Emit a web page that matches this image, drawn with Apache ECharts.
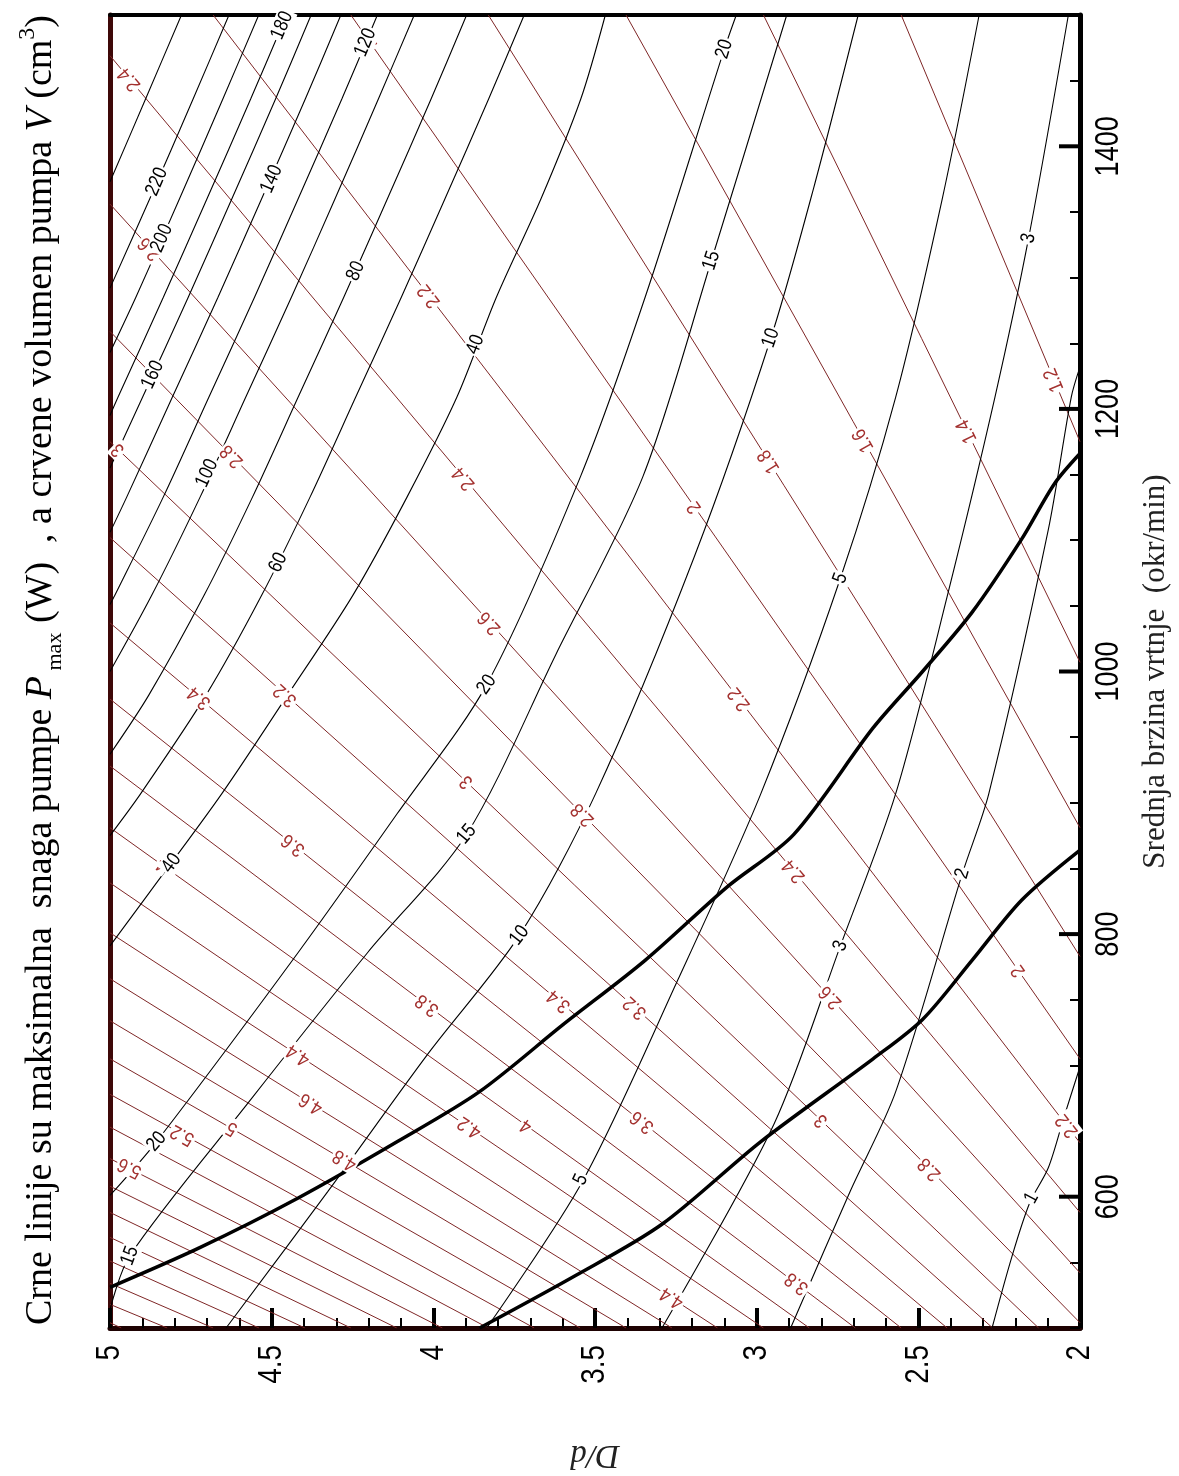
<!DOCTYPE html>
<html><head><meta charset="utf-8">
<script src="https://cdn.jsdelivr.net/npm/echarts@6/dist/echarts.min.js"></script>
<style>html,body{margin:0;padding:0;background:#fff}#c{width:1179px;height:1476px}</style>
</head><body><div id="c"></div>
<script>
// ---- axis ticks ----
const dTicks = [2, 2.5, 3, 3.5, 4, 4.5, 5];
const dTickLabels = ['2', '2.5', '3', '3.5', '4', '4.5', '5'];
const speedTicks = [600, 800, 1000, 1200, 1400];
const speedTickLabels = ['600', '800', '1000', '1200', '1400'];

// ---- red lines: pump volume V (cm3); each line = [start [D/d, rpm], end [D/d, rpm]] ----
const redV = [1.2,1.4,1.6,1.8,2.0,2.2,2.4,2.6,2.8,3.0,3.2,3.4,3.6,3.8,4.0,4.2,4.4,4.6,4.8,5.0,5.2,5.4,5.6,5.8,6.0,6.2,6.4,6.6,6.8,7.0];
const redStart = [[2.553,1500],[2.979,1500],[3.404,1500],[3.830,1500],[4.255,1500],[4.681,1500],[5,1469],[5,1356],[5,1259],[5,1175],[5,1102],[5,1037],[5,979],[5,928],[5,881],[5,839],[5,801],[5,766],[5,734],[5,705],[5,678],[5,653],[5,629],[5,608],[5,588],[5,569],[5,551],[5,534],[5,518],[5,504]];
const redEnd = [[2,1175],[2,1007],[2,881],[2,783],[2,705],[2,641],[2,588],[2,542],[2,504],[2.128,500],[2.270,500],[2.411,500],[2.553,500],[2.695,500],[2.837,500],[2.979,500],[3.121,500],[3.262,500],[3.404,500],[3.546,500],[3.688,500],[3.830,500],[3.972,500],[4.113,500],[4.255,500],[4.397,500],[4.539,500],[4.681,500],[4.823,500],[4.965,500]];
// red labels: [V, D/d, rpm]
const redLabels = [
 [2.4,4.94,1451],[2.6,4.877,1322],[2,4.194,1478],[2.2,4.013,1286],[2.8,4.623,1164],[3,4.975,1169],
 [3.2,4.458,982],[3.4,4.724,980],[2.4,3.906,1147],[2,3.192,1125],[1.8,2.962,1160],[1.6,2.67,1176],
 [1.4,2.35,1183],[1.2,2.08,1222],[2.6,3.826,1037],[2.2,3.054,979],[3,3.897,916],[2.8,3.538,891],
 [3.6,4.433,868],[4,4.838,853],[3.8,4.019,746],[3.4,3.612,749],[3.2,3.376,744],[4.4,4.418,708],
 [4.6,4.378,671],[5,4.623,652],[5.2,4.776,647],[5.6,4.939,622],[4.8,4.274,628],[4.2,3.888,653],
 [4,3.713,654],[3.6,3.354,657],[4.4,3.262,523],[3.8,2.876,534],[3,2.80,658],[2.8,2.465,621],
 [2.6,2.772,752],[2.4,2.885,848],[2,2.19,772],[2.2,2.04,654]
];

// ---- black lines: maximum pump power Pmax (W) ----
const blackP = [1,2,3,5,10,15,20,40,60,80,100,120,140,160,180,200,220,240];
const blackPaths = [
 [[2.272,500],[2.211,554],[2.156,595],[2.098,622],[2.049,661],[2.0,699]],
 [[2.895,500],[2.711,604],[2.570,680],[2.364,846],[2.282,907],[2.098,1108],[2.027,1209],[2.0,1232]],
 [[3.293,500],[2.947,655],[2.741,791],[2.570,907],[2.410,1058],[2.263,1209],[2.159,1330],[2.036,1500]],
 [[3.835,500],[3.538,612],[3.244,765],[2.987,907],[2.741,1071],[2.570,1209],[2.426,1360],[2.312,1500]],
 [[4.641,500],[4.326,604],[4.019,708],[3.734,799],[3.498,907],[3.192,1088],[2.956,1254],[2.824,1368],[2.686,1500]],
 [[5,514],[4.939,555],[4.571,672],[4.203,786],[3.897,876],[3.621,1013],[3.351,1149],[3.140,1313],[2.907,1500]],
 [[5,601],[4.856,642],[4.418,786],[4.111,892],[3.835,990],[3.544,1149],[3.345,1285],[3.100,1474],[3.063,1500]],
 [[3.468,1500],[3.544,1436],[3.667,1360],[3.805,1285],[3.927,1209],[4.081,1133],[4.249,1058],[4.451,982],[4.654,907],[4.880,831],[5,791]],
 [[3.719,1500],[3.829,1436],[3.964,1360],[4.099,1285],[4.240,1209],[4.381,1133],[4.531,1058],[4.703,982],[4.905,907],[5,875]],
 [[3.897,1500],[4.007,1436],[4.142,1360],[4.277,1285],[4.418,1209],[4.559,1133],[4.709,1058],[4.880,982],[5,937]],
 [[4.059,1500],[4.170,1436],[4.304,1360],[4.439,1285],[4.580,1209],[4.721,1133],[4.871,1058],[5,1000]],
 [[4.173,1500],[4.283,1436],[4.418,1360],[4.553,1285],[4.694,1209],[4.835,1133],[4.985,1058],[5,1051]],
 [[4.286,1500],[4.396,1436],[4.531,1360],[4.666,1285],[4.807,1209],[4.948,1133],[5,1106]],
 [[4.378,1500],[4.488,1436],[4.623,1360],[4.758,1285],[4.899,1209],[5,1155]],
 [[4.454,1500],[4.565,1436],[4.700,1360],[4.835,1285],[4.975,1209],[5,1195]],
 [[4.540,1500],[4.651,1436],[4.785,1360],[4.920,1285],[5,1243]],
 [[4.632,1500],[4.743,1436],[4.877,1360],[5,1292]],
 [[4.779,1500],[4.890,1436],[5,1373]]
];
// black labels: [P, D/d, rpm]
const blackLabels = [
 [1,2.150,599],[2,2.364,846],[3,2.741,791],[3,2.159,1330],[5,3.544,613],[5,2.741,1071],
 [10,3.734,799],[10,2.956,1254],[15,3.897,876],[15,3.140,1313],[15,4.939,555],
 [20,3.835,990],[20,3.100,1474],[20,4.856,642],[40,4.81,854],[40,3.87,1249],
 [60,4.48,1083],[80,4.24,1305],[100,4.70,1151],[120,4.21,1479],[140,4.50,1375],
 [160,4.868,1226],[180,4.468,1492],[200,4.84,1330],[220,4.855,1373]
];

// ---- thick black limit curves ----
const thickA = [[5,531],[4.724,561],[4.418,599],[4.111,642],[3.857,680],[3.599,731],[3.345,780],[3.091,836],[2.885,876],[2.640,957],[2.487,1000],[2.334,1045],[2.180,1101],[2.079,1143],[2.0,1166]];
const thickB = [[3.857,500],[3.560,540],[3.293,579],[2.987,642],[2.640,705],[2.487,735],[2.334,780],[2.180,826],[2.0,864]];

const RED_LINE = '#7e2626';
const RED_TEXT = '#a3312f';
const SANS = "'Liberation Sans',Arial,sans-serif";
const SERIF = "'Liberation Serif','Times New Roman',serif";

function labelSeries(labels, levels, paths, color) {
  return {
    type: 'custom', z: 10, silent: true, clip: false, animation: false,
    data: labels.map((l, i) => [l[1], l[2], i]),
    renderItem: function (params, api) {
      const lab = labels[api.value(2)];
      const p = api.coord([lab[1], lab[2]]);
      const pts = paths[levels.indexOf(lab[0])];
      let best = null, bd = Infinity;
      if (pts) for (let k = 0; k < pts.length - 1; k++) {
        const a = api.coord(pts[k]), b = api.coord(pts[k + 1]);
        const dx = b[0] - a[0], dy = b[1] - a[1];
        let t = ((p[0] - a[0]) * dx + (p[1] - a[1]) * dy) / (dx * dx + dy * dy);
        t = Math.max(0, Math.min(1, t));
        const d = Math.hypot(p[0] - (a[0] + t * dx), p[1] - (a[1] + t * dy));
        if (d < bd) { bd = d; best = [dx, dy]; }
      }
      let ang = best ? Math.atan2(-best[1], best[0]) : 0;
      if (ang <= 0) ang += Math.PI;
      if (ang > Math.PI) ang -= Math.PI;
      return {
        type: 'text', x: p[0], y: p[1], rotation: ang, scaleX: 0.85,
        style: {
          text: String(lab[0]), fill: color, fontSize: 20, fontFamily: SANS,
          align: 'center', verticalAlign: 'middle',
          backgroundColor: '#fff', padding: [0, 2]
        }
      };
    }
  };
}

const series = [];
redV.forEach((v, i) => series.push({
  type: 'line', data: [redStart[i], redEnd[i]], showSymbol: false, silent: true, z: 3,
  lineStyle: { color: RED_LINE, width: 1 }, animation: false
}));
const redPaths = redV.map((v, i) => [redStart[i], redEnd[i]]);
blackP.forEach((p, i) => series.push({
  type: 'line', data: blackPaths[i], smooth: 0.3, showSymbol: false, silent: true, z: 4,
  lineStyle: { color: '#000', width: 1.1 }, animation: false
}));
[thickA, thickB].forEach(d => series.push({
  type: 'line', data: d, smooth: 0.3, showSymbol: false, silent: true, z: 6,
  lineStyle: { color: '#000', width: 3.5 }, animation: false
}));
series.push(labelSeries(redLabels, redV, redPaths, RED_TEXT));
series.push(labelSeries(blackLabels, blackP, blackPaths, '#000'));

// bottom tick labels (D/d), rotated like the reference
series.push({
  type: 'custom', z: 12, silent: true, clip: false, animation: false,
  data: dTicks.map((v, i) => [v, 500, i]),
  renderItem: function (params, api) {
    const p = api.coord([api.value(0), api.value(1)]);
    return { type: 'text', x: p[0], y: p[1] + 17, rotation: Math.PI / 2, scaleX: 0.82,
      style: { text: dTickLabels[api.value(2)], fill: '#000', fontSize: 34, fontFamily: SANS,
        align: 'right', verticalAlign: 'middle' } };
  }
});
// right major ticks + labels (rpm)
series.push({
  type: 'custom', z: 12, silent: true, clip: false, animation: false,
  data: speedTicks.map((v, i) => [2, v, i]),
  renderItem: function (params, api) {
    const p = api.coord([api.value(0), api.value(1)]);
    return { type: 'group', children: [
      { type: 'line', shape: { x1: p[0] - 21, y1: p[1], x2: p[0], y2: p[1] }, style: { stroke: '#000', lineWidth: 4 } },
      { type: 'text', x: p[0] + 12, y: p[1], rotation: Math.PI / 2, scaleX: 0.82,
        style: { text: speedTickLabels[api.value(2)], fill: '#000', fontSize: 33, fontFamily: SANS,
          align: 'center', verticalAlign: 'top' } }
    ] };
  }
});

const option = {
  backgroundColor: '#fff',
  animation: false,
  grid: { left: 110, right: 92, top: 15, bottom: 138, containLabel: false },
  xAxis: [{
    type: 'value', min: 2, max: 5, interval: 0.5, inverse: true, position: 'bottom',
    axisLine: { show: true, onZero: false, lineStyle: { color: '#1e0202', width: 5 } },
    axisTick: { show: true, inside: true, length: 20, lineStyle: { color: '#000', width: 4 } },
    minorTick: { show: true, splitNumber: 5, length: 10, lineStyle: { color: '#000', width: 2 } },
    splitLine: { show: false },
    axisLabel: { show: false },
    name: 'D/d', nameLocation: 'middle', nameGap: 110, nameRotate: 180,
    nameTextStyle: { fontFamily: SERIF, fontStyle: 'italic', fontSize: 33, color: '#222' }
  }, {
    type: 'value', min: 2, max: 5, inverse: true, position: 'top',
    axisLine: { show: true, onZero: false, lineStyle: { color: '#000', width: 4 } },
    axisTick: { show: false }, axisLabel: { show: false }, splitLine: { show: false }
  }],
  yAxis: [{
    type: 'value', min: 500, max: 1500, interval: 50, position: 'right',
    axisLine: { show: true, onZero: false, lineStyle: { color: '#000', width: 5 } },
    axisTick: { show: true, inside: true, length: 10, lineStyle: { color: '#000', width: 2 } },
    splitLine: { show: false },
    axisLabel: { show: false },
    name: 'Srednja brzina vrtnje  (okr/min)', nameLocation: 'middle', nameGap: 60, nameRotate: 90,
    nameTextStyle: { fontFamily: SERIF, fontSize: 31, color: '#222' }
  }, {
    type: 'value', min: 500, max: 1500, position: 'left',
    axisLine: { show: true, onZero: false, lineStyle: { color: '#3e0808', width: 5 } },
    axisTick: { show: false }, axisLabel: { show: false }, splitLine: { show: false }
  }],
  graphic: [{
    type: 'text', x: 41, y: 670, rotation: Math.PI / 2, silent: true,
    style: {
      text: 'Crne linije su maksimalna  snaga pumpe {i|P}{sub| max} (W)  , a crvene volumen pumpa {i|V} (cm{sup|3})',
      fontFamily: SERIF, fontSize: 38, fill: '#000',
      align: 'center', verticalAlign: 'middle',
      rich: {
        i: { fontFamily: SERIF, fontStyle: 'italic', fontSize: 38 },
        sub: { fontFamily: SERIF, fontSize: 22, verticalAlign: 'bottom', padding: [16, 0, 0, 0] },
        sup: { fontFamily: SERIF, fontSize: 24, verticalAlign: 'top', padding: [0, 0, 26, 0] }
      }
    }
  }],
  series: series
};
const chart = echarts.init(document.getElementById('c'));
chart.setOption(option);
</script>
</body></html>
